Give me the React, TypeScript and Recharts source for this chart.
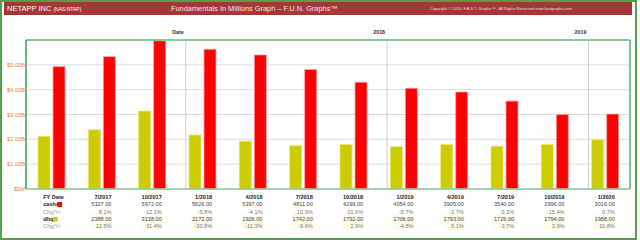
import React from "react"
import { BarChart, Bar, XAxis, YAxis, CartesianGrid, ReferenceLine } from "recharts"

const labels = ["4/2017", "7/2017", "10/2017", "1/2018", "4/2018", "7/2018", "10/2018", "1/2019", "4/2019", "7/2019", "10/2019", "1/2020"]
const cashq = [4928, 5327, 5972, 5626, 5397, 4811, 4299, 4054, 3905, 3540, 2996, 3016]
const dltq = [2123, 2388, 3138, 2172, 1926, 1742, 1792, 1706, 1793, 1726, 1794, 1988]
const cashChg = ["", "8.1%", "12.1%", "-5.8%", "-4.1%", "-10.9%", "-10.6%", "-5.7%", "-3.7%", "-9.3%", "-15.4%", "0.7%"]
const dltqChg = ["", "12.5%", "31.4%", "-30.8%", "-11.3%", "-9.6%", "2.9%", "-4.8%", "5.1%", "-3.7%", "3.9%", "10.8%"]
const yearLabels = ["Date", "2018", "2019"]
const yTicks = [0, 1000, 2000, 3000, 4000, 5000]

// each quarter gets one slot on a numeric axis, bars centred in it
const data = labels.map((label, i) => ({ label, pos: i + 0.5, cashq: cashq[i], dltq: dltq[i] }))
const xTicks = data.map((d) => d.pos)

const FONT = "'Liberation Sans', Arial, sans-serif"
const RED = "#ff0000"
const YELLOW = "#cccc00"
const BORDER = "#8cc79c"

// fiscal quarters are plotted at month end, year lines sit on Jan 1
function monthEnd(label: string) {
  const [m, y] = label.split("/").map(Number)
  return Date.UTC(y, m, 0)
}

const yearMarks: number[] = []
for (let i = 0; i < labels.length - 1; i++) {
  const d0 = monthEnd(labels[i])
  const d1 = monthEnd(labels[i + 1])
  const y1 = new Date(d1).getUTCFullYear()
  if (new Date(d0).getUTCFullYear() !== y1) {
    const jan = Date.UTC(y1, 0, 1)
    yearMarks.push(data[i].pos + (jan - d0) / (d1 - d0))
  }
}

function yFmt(v: number) {
  return v === 0 ? "$0M" : `$${(v / 1000).toFixed(2)}B`
}

function TableTick(props: any) {
  const { x, y, index } = props
  const base = { fontFamily: FONT, fontSize: 5.6 }
  if (index === 0) {
    const lx = x - 8
    return (
      <g>
        <text x={lx} y={y + 10} {...base} fontWeight="bold" fill="#222">FY Date</text>
        <text x={lx} y={y + 17} {...base} fontWeight="bold" fill="#222">cashq</text>
        <rect x={x + 6} y={y + 13} width={5} height={5} fill={RED} />
        <text x={lx} y={y + 25} {...base} fill="#999">Chg/Yr</text>
        <text x={lx} y={y + 32} {...base} fontWeight="bold" fill="#222">dltq</text>
        <rect x={x + 2} y={y + 28} width={4.5} height={4.5} fill={YELLOW} />
        <text x={lx} y={y + 39} {...base} fill="#999">Chg/Yr</text>
      </g>
    )
  }
  const rx = x + 10
  return (
    <g>
      <rect x={x - 11} y={y + 25} width={22} height={16} fill="#fffbea" />
      <text x={rx} y={y + 10} {...base} textAnchor="end" fontWeight="bold" fill="#222">{labels[index]}</text>
      <text x={rx} y={y + 17} {...base} textAnchor="end" fill="#444">{cashq[index].toFixed(2)}</text>
      <text x={rx} y={y + 25} {...base} textAnchor="end" fill="#777">{cashChg[index]}</text>
      <text x={rx} y={y + 32} {...base} textAnchor="end" fill="#444">{dltq[index].toFixed(2)}</text>
      <text x={rx} y={y + 39} {...base} textAnchor="end" fill="#777">{dltqChg[index]}</text>
    </g>
  )
}

export default function App() {
  return (
    <div style={{ position: "absolute", left: 0, top: 0, width: 640, height: 240, background: "#fff", fontFamily: FONT }}>
      <div style={{ position: "absolute", left: 0, top: 0, width: 637, height: 240, boxSizing: "border-box", border: "2px solid #54a04a" }} />
      <div style={{ position: "absolute", left: 4, top: 2, width: 628, height: 13, background: "#a83436", color: "#fff" }}>
        <span style={{ position: "absolute", left: 3, top: 2, fontSize: 7.5, whiteSpace: "nowrap" }}>
          NETAPP INC <span style={{ fontSize: 5 }}>(NAS:NTAP)</span>
        </span>
        <span style={{ position: "absolute", left: 167, top: 2, fontSize: 7.4, whiteSpace: "nowrap", color: "#f6e6e6" }}>
          Fundamentals In Millions Graph – F.U.N. Graphs™
        </span>
        <span style={{ position: "absolute", left: 426, top: 4, fontSize: 4, whiteSpace: "nowrap", color: "#f3dcdc" }}>
          Copyright © 2019, F.A.S.T. Graphs™ - All Rights Reserved www.fastgraphs.com
        </span>
      </div>
      <div style={{ position: "absolute", left: 0, top: 0 }}>
        <BarChart width={640} height={240} data={data} margin={{ top: 40, right: 10, bottom: 0, left: 0 }} barSize={12} barGap={3}>
          <CartesianGrid vertical={false} stroke="#dcdcdc" />
          <XAxis
            type="number"
            dataKey="pos"
            domain={[0, labels.length]}
            ticks={xTicks}
            interval={0}
            allowDataOverflow
            height={51}
            tickLine={false}
            tickSize={0}
            tickMargin={0}
            axisLine={{ stroke: BORDER, strokeWidth: 1.5 }}
            tick={<TableTick />}
          />
          <YAxis
            width={26}
            domain={[0, 6000]}
            ticks={yTicks}
            tickFormatter={yFmt}
            tickLine={false}
            tickSize={0}
            tickMargin={1}
            axisLine={{ stroke: "#3f9a55", strokeWidth: 1.5 }}
            tick={{ fontSize: 5.7, fill: "#e8803a", fontFamily: FONT }}
          />
          {yearMarks.map((pos, i) => (
            <ReferenceLine
              key={i}
              x={pos}
              stroke="#cfcfcf"
              strokeWidth={1}
              label={(p: any) => (
                <text x={p.viewBox.x - 2} y={p.viewBox.y - 6} textAnchor="end" fontSize={5.3} fontWeight="bold" fill="#333" fontFamily={FONT}>
                  {yearLabels[i]}
                </text>
              )}
            />
          ))}
          <Bar dataKey="dltq" fill={YELLOW} stroke="#e8e87a" strokeWidth={0.8} isAnimationActive={false} />
          <Bar dataKey="cashq" fill={RED} stroke="#ffa0a0" strokeWidth={0.8} isAnimationActive={false} />
          <ReferenceLine y={6000} stroke={BORDER} strokeWidth={2} />
          <ReferenceLine x={labels.length} stroke="#5aa870" strokeWidth={1.5} />
        </BarChart>
      </div>
    </div>
  )
}
